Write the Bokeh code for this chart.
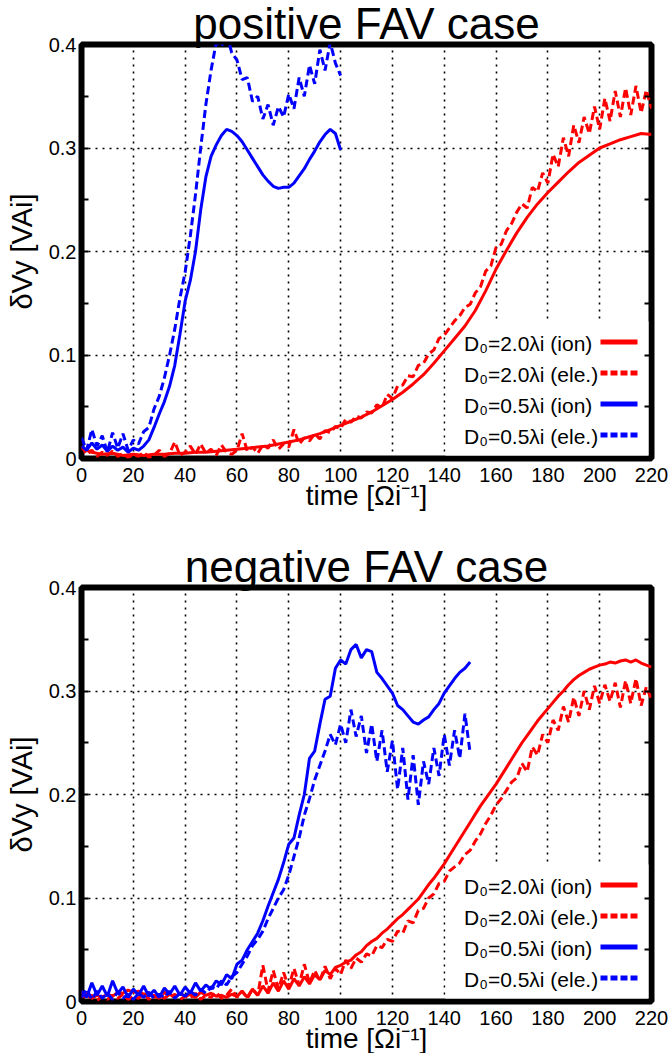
from bokeh.plotting import figure
from bokeh.layouts import column
from bokeh.models import (Range1d, FixedTicker, LinearAxis, Legend, LegendItem,
                          BoxAnnotation, Arrow)
from bokeh.embed import file_html
from bokeh.resources import INLINE

# ---------------- data ----------------
x_ticks = [0, 20, 40, 60, 80, 100, 120, 140, 160, 180, 200, 220]
x_tick_labels = ["0", "20", "40", "60", "80", "100", "120", "140", "160", "180", "200", "220"]
y_ticks = [0, 0.1, 0.2, 0.3, 0.4]
y_tick_labels = ["0", "0.1", "0.2", "0.3", "0.4"]
y_minor_ticks = [0.05, 0.15, 0.25, 0.35]

legend_labels = ["D₀=2.0λi (ion)", "D₀=2.0λi (ele.)", "D₀=0.5λi (ion)", "D₀=0.5λi (ele.)"]
panel_titles = ["positive FAV case", "negative FAV case"]

t_0_220_step4 = list(range(0, 221, 4))
t_0_220_step2 = list(range(0, 221, 2))
t_0_100_step2 = list(range(0, 101, 2))
t_0_150_step2 = list(range(0, 151, 2))

# positive FAV case
pos_red_ion = [
    0.010, 0.006, 0.004, 0.005, 0.003, 0.004, 0.003, 0.004, 0.004, 0.005,
    0.005, 0.006, 0.006, 0.007, 0.008, 0.009, 0.010, 0.011, 0.012, 0.014,
    0.016, 0.018, 0.021, 0.024, 0.028, 0.032, 0.036, 0.040, 0.045, 0.051,
    0.057, 0.064, 0.072, 0.081, 0.092, 0.104, 0.116, 0.128, 0.143, 0.162,
    0.183, 0.201, 0.218, 0.233, 0.246, 0.257, 0.267, 0.277, 0.286, 0.293,
    0.300, 0.304, 0.308, 0.311, 0.314, 0.313,
]
pos_red_ele = [
    0.012, 0.004, 0.008, 0.002, 0.006, 0.003, 0.007, 0.002, 0.005, 0.001,
    0.004, 0.002, 0.006, 0.001, 0.003, 0.008, 0.002, 0.005, 0.016, 0.003,
    0.006, 0.012, 0.004, 0.014, 0.005, 0.009, 0.003, 0.013, 0.006, 0.004,
    0.008, 0.024, 0.007, 0.011, 0.005, 0.013, 0.010, 0.018, 0.009, 0.014,
    0.011, 0.028, 0.014, 0.020, 0.017, 0.024, 0.019, 0.027, 0.025, 0.031,
    0.029, 0.038, 0.035, 0.041, 0.039, 0.045, 0.044, 0.052, 0.049, 0.062,
    0.058, 0.070, 0.071, 0.080, 0.079, 0.090, 0.092, 0.101, 0.105, 0.116,
    0.119, 0.126, 0.133, 0.138, 0.146, 0.149, 0.160, 0.166, 0.181, 0.186,
    0.204, 0.207, 0.220, 0.227, 0.238, 0.246, 0.242, 0.262, 0.258, 0.276,
    0.266, 0.294, 0.282, 0.310, 0.292, 0.322, 0.305, 0.330, 0.314, 0.340,
    0.318, 0.348, 0.326, 0.355, 0.330, 0.358, 0.332, 0.360, 0.334, 0.356,
    0.338,
]
pos_blue_ion = [
    0.012, 0.008, 0.015, 0.009, 0.013, 0.007, 0.012, 0.008, 0.011, 0.006,
    0.010, 0.008, 0.012, 0.018, 0.030, 0.043, 0.055, 0.070, 0.090, 0.120,
    0.152, 0.172, 0.200, 0.240, 0.272, 0.292, 0.303, 0.312, 0.318, 0.316,
    0.312, 0.306, 0.298, 0.290, 0.282, 0.274, 0.268, 0.263, 0.261, 0.262,
    0.262, 0.266, 0.273, 0.280, 0.289, 0.297, 0.306, 0.313, 0.318, 0.314,
    0.298,
]
pos_blue_ele = [
    0.020, 0.008, 0.028, 0.012, 0.022, 0.006, 0.025, 0.010, 0.024, 0.008,
    0.018, 0.014, 0.026, 0.030, 0.048, 0.060, 0.078, 0.100, 0.125, 0.155,
    0.180, 0.215, 0.255, 0.300, 0.342, 0.375, 0.402, 0.398, 0.410, 0.392,
    0.385, 0.366, 0.368, 0.345, 0.350, 0.328, 0.342, 0.322, 0.340, 0.330,
    0.352, 0.338, 0.368, 0.350, 0.380, 0.362, 0.395, 0.375, 0.402, 0.382,
    0.370,
]

# negative FAV case
neg_red_ion = [
    0.004, 0.008, 0.003, 0.006, 0.004, 0.007, 0.005, 0.009, 0.008, 0.011,
    0.009, 0.010, 0.007, 0.008, 0.004, 0.006, 0.003, 0.007, 0.004, 0.008,
    0.005, 0.007, 0.004, 0.009, 0.006, 0.008, 0.005, 0.006, 0.004, 0.007,
    0.005, 0.010, 0.004, 0.012, 0.006, 0.015, 0.008, 0.018, 0.010, 0.020,
    0.012, 0.022, 0.015, 0.024, 0.017, 0.026, 0.021, 0.030, 0.026, 0.033,
    0.035, 0.038, 0.040, 0.045, 0.048, 0.054, 0.058, 0.061, 0.066, 0.070,
    0.075, 0.080, 0.084, 0.089, 0.094, 0.099, 0.106, 0.113, 0.119, 0.126,
    0.133, 0.141, 0.149, 0.157, 0.165, 0.173, 0.181, 0.189, 0.196, 0.203,
    0.210, 0.218, 0.226, 0.234, 0.242, 0.250, 0.257, 0.264, 0.271, 0.277,
    0.283, 0.289, 0.295, 0.300, 0.306, 0.311, 0.315, 0.318, 0.321, 0.323,
    0.325, 0.326, 0.328, 0.327, 0.329, 0.330, 0.328, 0.330, 0.327, 0.325,
    0.323,
]
neg_red_ele = [
    0.010, 0.002, 0.006, 0.001, 0.005, 0.002, 0.006, 0.003, 0.007, 0.002,
    0.005, 0.003, 0.008, 0.002, 0.006, 0.003, 0.009, 0.004, 0.007, 0.002,
    0.005, 0.003, 0.008, 0.002, 0.006, 0.004, 0.009, 0.003, 0.006, 0.012,
    0.004, 0.010, 0.003, 0.012, 0.006, 0.035, 0.010, 0.030, 0.012, 0.028,
    0.014, 0.032, 0.016, 0.036, 0.018, 0.030, 0.020, 0.034, 0.022, 0.032,
    0.026, 0.040, 0.032, 0.042, 0.038, 0.046, 0.044, 0.054, 0.052, 0.060,
    0.058, 0.068, 0.066, 0.078, 0.076, 0.088, 0.090, 0.100, 0.104, 0.114,
    0.116, 0.126, 0.130, 0.134, 0.142, 0.146, 0.155, 0.162, 0.172, 0.180,
    0.190, 0.196, 0.204, 0.212, 0.216, 0.230, 0.222, 0.246, 0.238, 0.258,
    0.250, 0.272, 0.262, 0.285, 0.270, 0.294, 0.276, 0.300, 0.282, 0.305,
    0.288, 0.306, 0.290, 0.308, 0.284, 0.310, 0.288, 0.312, 0.286, 0.304,
    0.292,
]
neg_blue_ion = [
    0.010, 0.004, 0.018, 0.006, 0.015, 0.005, 0.020, 0.008, 0.014, 0.004,
    0.012, 0.006, 0.015, 0.005, 0.011, 0.004, 0.013, 0.007, 0.015, 0.006,
    0.014, 0.008, 0.018, 0.010, 0.016, 0.012, 0.020, 0.016, 0.026, 0.022,
    0.036, 0.040, 0.050, 0.058, 0.066, 0.078, 0.092, 0.105, 0.118, 0.134,
    0.152, 0.158, 0.180, 0.200, 0.235, 0.242, 0.268, 0.292, 0.295, 0.322,
    0.330, 0.326, 0.340, 0.345, 0.332, 0.340, 0.338, 0.318, 0.312, 0.305,
    0.298, 0.286, 0.282, 0.276, 0.270, 0.268, 0.272, 0.275, 0.282, 0.288,
    0.298, 0.305, 0.312, 0.318, 0.322, 0.328,
]
neg_blue_ele = [
    0.004, 0.012, 0.002, 0.010, 0.003, 0.008, 0.002, 0.009, 0.003, 0.007,
    0.002, 0.008, 0.004, 0.009, 0.003, 0.007, 0.004, 0.010, 0.003, 0.008,
    0.005, 0.010, 0.006, 0.012, 0.008, 0.014, 0.012, 0.020, 0.016, 0.024,
    0.028, 0.036, 0.044, 0.054, 0.060, 0.068, 0.080, 0.090, 0.100, 0.108,
    0.122, 0.140, 0.158, 0.180, 0.196, 0.214, 0.228, 0.242, 0.258, 0.248,
    0.268, 0.250, 0.282, 0.256, 0.276, 0.240, 0.268, 0.232, 0.262, 0.222,
    0.252, 0.205, 0.245, 0.195, 0.238, 0.190, 0.232, 0.210, 0.245, 0.218,
    0.258, 0.228, 0.262, 0.235, 0.278, 0.240,
]

# ---------------- styling ----------------
RED = "#ff0000"
BLUE = "#0000ff"
FONT = "Liberation Sans"
DASH = "8 4"
LW = 3

# key geometry (pixels, relative to the plot frame's bottom-left corner)
KEY_X, KEY_Y, KEY_PAD, KEY_ROW = 371, 6, 5, 31


def make_panel(title_text, red_t_ion, red_ion, red_t_ele, red_ele,
               blue_t, blue_ion, blue_ele, bottom_border):
    p = figure(frame_width=570, frame_height=414,
               x_range=Range1d(0, 220), y_range=Range1d(0, 0.4),
               output_backend="svg", toolbar_location=None,
               min_border_left=81, min_border_right=17,
               min_border_top=43, min_border_bottom=bottom_border)
    p.background_fill_color = "white"
    p.border_fill_color = "white"
    p.outline_line_color = "black"
    p.outline_line_width = 6

    p.title.text = title_text
    p.title.align = "center"
    p.title.text_font = FONT
    p.title.text_font_size = "44px"
    p.title.text_font_style = "normal"
    p.title.text_color = "black"
    p.title.standoff = -7

    # grid
    for g in (p.xgrid, p.ygrid):
        g.grid_line_color = "black"
        g.grid_line_dash = "2 5"
        g.grid_line_width = 1.6
        g.grid_line_alpha = 1.0
    p.xgrid.ticker = FixedTicker(ticks=x_ticks)
    p.ygrid.ticker = FixedTicker(ticks=y_ticks)

    # white area behind the key
    p.add_layout(BoxAnnotation(left=364, right=567, bottom=3, top=137,
                               left_units="screen", right_units="screen",
                               bottom_units="screen", top_units="screen",
                               fill_color="white", fill_alpha=1.0,
                               line_color=None, level="underlay"))

    # axes
    xa = p.xaxis[0]
    xa.ticker = FixedTicker(ticks=x_ticks)
    xa.major_label_overrides = dict(zip(x_ticks, x_tick_labels))
    xa.axis_line_color = None
    xa.major_tick_line_color = None
    xa.minor_tick_line_color = None
    xa.major_label_text_font = FONT
    xa.major_label_text_font_size = "20px"
    xa.major_label_text_color = "black"
    xa.major_label_standoff = 3
    xa.axis_label = "time [Ωi⁻¹]"
    xa.axis_label_text_font = FONT
    xa.axis_label_text_font_size = "28px"
    xa.axis_label_text_font_style = "normal"
    xa.axis_label_text_color = "black"
    xa.axis_label_standoff = -5

    ya = p.yaxis[0]
    ya.ticker = FixedTicker(ticks=y_ticks, minor_ticks=y_minor_ticks)
    ya.major_label_overrides = dict(zip(y_ticks, y_tick_labels))
    ya.axis_line_color = None
    ya.major_tick_in = 7
    ya.major_tick_out = 0
    ya.minor_tick_in = 7
    ya.minor_tick_out = 0
    ya.major_tick_line_width = 2
    ya.minor_tick_line_width = 2
    ya.major_tick_line_color = "black"
    ya.minor_tick_line_color = "black"
    ya.major_label_text_font = FONT
    ya.major_label_text_font_size = "20px"
    ya.major_label_text_color = "black"
    ya.major_label_standoff = 5
    ya.axis_label = "δVy [VAi]"
    ya.axis_label_text_font = FONT
    ya.axis_label_text_font_size = "29px"
    ya.axis_label_text_font_style = "normal"
    ya.axis_label_text_color = "black"
    ya.axis_label_standoff = 8

    ra = LinearAxis(ticker=FixedTicker(ticks=y_ticks, minor_ticks=y_minor_ticks))
    ra.axis_line_color = None
    ra.major_tick_in = 7
    ra.major_tick_out = 0
    ra.minor_tick_in = 7
    ra.minor_tick_out = 0
    ra.major_tick_line_width = 2
    ra.minor_tick_line_width = 2
    ra.major_label_overrides = {t: "" for t in y_ticks}
    ra.major_label_standoff = 0
    p.add_layout(ra, "right")

    # curves
    p.line(red_t_ion, red_ion, line_color=RED, line_width=LW)
    p.line(red_t_ele, red_ele, line_color=RED, line_width=LW, line_dash=DASH)
    p.line(blue_t, blue_ion, line_color=BLUE, line_width=LW)
    p.line(blue_t, blue_ele, line_color=BLUE, line_width=LW, line_dash=DASH)

    # gnuplot-style key: text on the left ...
    hidden = p.line(x=[], y=[], line_alpha=0)
    leg = Legend(items=[LegendItem(label=lab, renderers=[hidden]) for lab in legend_labels],
                 location=(KEY_X, KEY_Y), glyph_width=2, glyph_height=KEY_ROW,
                 label_height=KEY_ROW, label_standoff=10, spacing=0,
                 padding=KEY_PAD, margin=0, border_line_color=None,
                 background_fill_alpha=0.0,
                 label_text_font=FONT, label_text_font_size="21px",
                 label_text_color="black")
    p.add_layout(leg)

    # ... and line samples on the right of each entry
    styles = [(RED, None), (RED, "7 3"), (BLUE, None), (BLUE, "7 3")]
    for k, (col, dash) in enumerate(styles):
        yc = KEY_Y + KEY_PAD + KEY_ROW * (len(styles) - k - 0.5) - 3
        kw = dict(line_dash=dash) if dash else {}
        p.add_layout(Arrow(end=None, x_start=519, y_start=yc, x_end=556, y_end=yc,
                           start_units="screen", end_units="screen",
                           line_color=col, line_width=5, **kw))
    return p


p1 = make_panel(panel_titles[0], t_0_220_step4, pos_red_ion, t_0_220_step2, pos_red_ele,
                t_0_100_step2, pos_blue_ion, pos_blue_ele, 85)
p2 = make_panel(panel_titles[1], t_0_220_step2, neg_red_ion, t_0_220_step2, neg_red_ele,
                t_0_150_step2, neg_blue_ion, neg_blue_ele, 54)

layout = column(p1, p2, spacing=0)
open("out.html", "w").write(file_html(layout, INLINE))
